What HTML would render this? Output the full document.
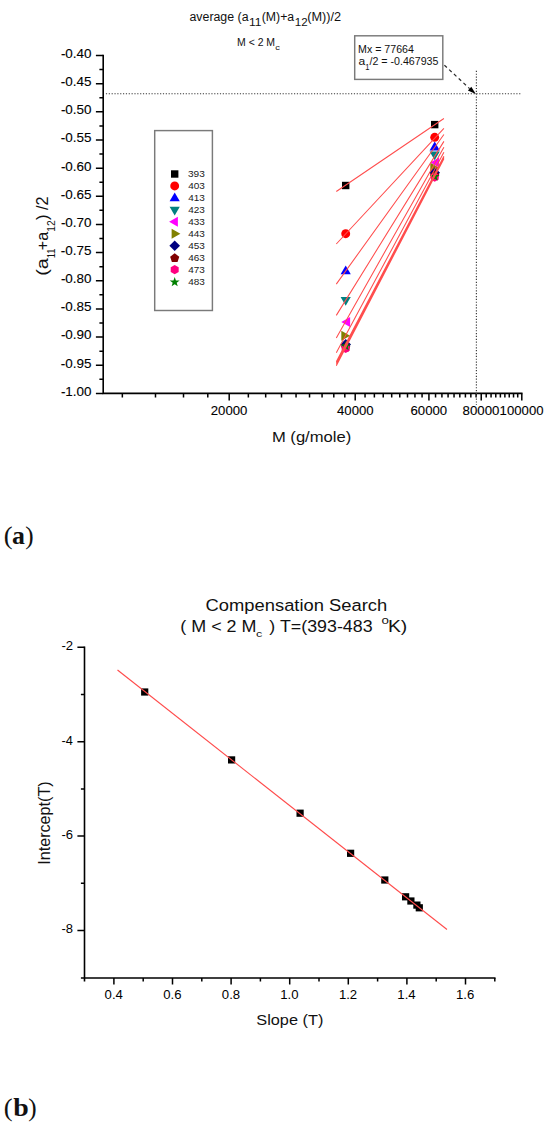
<!DOCTYPE html>
<html><head><meta charset="utf-8"><style>
html,body{margin:0;padding:0;background:#fff;}
body{width:550px;height:1128px;overflow:hidden;}
svg{display:block;}
text{font-family:"Liberation Sans",sans-serif;fill:#111;}
.tk{fill:#000;stroke:#000;stroke-width:0.1px;}
.tb{fill:#000;}
</style></head><body>
<svg width="550" height="1128" viewBox="0 0 550 1128">
<path d="M103.2 54.75 V394.15 M102.45 393.4 H522.5458124805194" stroke="#000" stroke-width="1.6" fill="none"/>
<path d="M95.90 55.50H103.2 M95.90 83.66H103.2 M95.90 111.82H103.2 M95.90 139.98H103.2 M95.90 168.13H103.2 M95.90 196.29H103.2 M95.90 224.45H103.2 M95.90 252.61H103.2 M95.90 280.77H103.2 M95.90 308.93H103.2 M95.90 337.08H103.2 M95.90 365.24H103.2 M95.90 393.40H103.2 M99.40 69.58H103.2 M99.40 97.74H103.2 M99.40 125.90H103.2 M99.40 154.05H103.2 M99.40 182.21H103.2 M99.40 210.37H103.2 M99.40 238.53H103.2 M99.40 266.69H103.2 M99.40 294.85H103.2 M99.40 323.00H103.2 M99.40 351.16H103.2 M99.40 379.32H103.2 M229.20 393.4V400.59999999999997 M355.21 393.4V400.59999999999997 M428.93 393.4V400.59999999999997 M481.23 393.4V400.59999999999997 M521.80 393.4V400.59999999999997 M122.34 393.4V397.59999999999997 M155.49 393.4V397.59999999999997 M183.51 393.4V397.59999999999997 M207.79 393.4V397.59999999999997 M248.35 393.4V397.59999999999997 M265.68 393.4V397.59999999999997 M281.50 393.4V397.59999999999997 M296.05 393.4V397.59999999999997 M309.53 393.4V397.59999999999997 M322.07 393.4V397.59999999999997 M333.80 393.4V397.59999999999997 M344.82 393.4V397.59999999999997 M365.04 393.4V397.59999999999997 M374.37 393.4V397.59999999999997 M383.24 393.4V397.59999999999997 M391.70 393.4V397.59999999999997 M399.78 393.4V397.59999999999997 M407.51 393.4V397.59999999999997 M414.94 393.4V397.59999999999997 M422.07 393.4V397.59999999999997 M435.54 393.4V397.59999999999997 M441.92 393.4V397.59999999999997 M448.08 393.4V397.59999999999997 M454.04 393.4V397.59999999999997 M459.82 393.4V397.59999999999997 M465.41 393.4V397.59999999999997 M470.84 393.4V397.59999999999997 M476.11 393.4V397.59999999999997 M486.21 393.4V397.59999999999997 M491.06 393.4V397.59999999999997 M495.78 393.4V397.59999999999997 M500.38 393.4V397.59999999999997 M504.87 393.4V397.59999999999997 M509.25 393.4V397.59999999999997 M513.53 393.4V397.59999999999997 M517.71 393.4V397.59999999999997" stroke="#000" stroke-width="1.5" fill="none"/>
<text x="60.90" y="57.90" textLength="30.63" lengthAdjust="spacingAndGlyphs" style="font-family:'Liberation Sans',sans-serif;font-size:13.3px" class="tk">-0.40</text>
<text x="60.89" y="86.06" textLength="30.67" lengthAdjust="spacingAndGlyphs" style="font-family:'Liberation Sans',sans-serif;font-size:13.3px" class="tk">-0.45</text>
<text x="60.90" y="114.22" textLength="30.63" lengthAdjust="spacingAndGlyphs" style="font-family:'Liberation Sans',sans-serif;font-size:13.3px" class="tk">-0.50</text>
<text x="60.89" y="142.38" textLength="30.67" lengthAdjust="spacingAndGlyphs" style="font-family:'Liberation Sans',sans-serif;font-size:13.3px" class="tk">-0.55</text>
<text x="60.90" y="170.53" textLength="30.63" lengthAdjust="spacingAndGlyphs" style="font-family:'Liberation Sans',sans-serif;font-size:13.3px" class="tk">-0.60</text>
<text x="60.89" y="198.69" textLength="30.67" lengthAdjust="spacingAndGlyphs" style="font-family:'Liberation Sans',sans-serif;font-size:13.3px" class="tk">-0.65</text>
<text x="60.90" y="226.85" textLength="30.63" lengthAdjust="spacingAndGlyphs" style="font-family:'Liberation Sans',sans-serif;font-size:13.3px" class="tk">-0.70</text>
<text x="60.89" y="255.01" textLength="30.67" lengthAdjust="spacingAndGlyphs" style="font-family:'Liberation Sans',sans-serif;font-size:13.3px" class="tk">-0.75</text>
<text x="60.90" y="283.17" textLength="30.63" lengthAdjust="spacingAndGlyphs" style="font-family:'Liberation Sans',sans-serif;font-size:13.3px" class="tk">-0.80</text>
<text x="60.89" y="311.32" textLength="30.67" lengthAdjust="spacingAndGlyphs" style="font-family:'Liberation Sans',sans-serif;font-size:13.3px" class="tk">-0.85</text>
<text x="60.90" y="339.48" textLength="30.63" lengthAdjust="spacingAndGlyphs" style="font-family:'Liberation Sans',sans-serif;font-size:13.3px" class="tk">-0.90</text>
<text x="60.89" y="367.64" textLength="30.67" lengthAdjust="spacingAndGlyphs" style="font-family:'Liberation Sans',sans-serif;font-size:13.3px" class="tk">-0.95</text>
<text x="60.90" y="395.80" textLength="30.63" lengthAdjust="spacingAndGlyphs" style="font-family:'Liberation Sans',sans-serif;font-size:13.3px" class="tk">-1.00</text>
<text x="210.79" y="415.30" textLength="36.66" lengthAdjust="spacingAndGlyphs" style="font-family:'Liberation Sans',sans-serif;font-size:13.2px" class="tk">20000</text>
<text x="336.99" y="415.30" textLength="36.66" lengthAdjust="spacingAndGlyphs" style="font-family:'Liberation Sans',sans-serif;font-size:13.2px" class="tk">40000</text>
<text x="410.52" y="415.30" textLength="36.66" lengthAdjust="spacingAndGlyphs" style="font-family:'Liberation Sans',sans-serif;font-size:13.2px" class="tk">60000</text>
<text x="462.64" y="415.30" textLength="36.87" lengthAdjust="spacingAndGlyphs" style="font-family:'Liberation Sans',sans-serif;font-size:13.2px" class="tk">80000</text>
<text x="499.61" y="415.30" textLength="43.91" lengthAdjust="spacingAndGlyphs" style="font-family:'Liberation Sans',sans-serif;font-size:13.2px" class="tk">100000</text>
<text x="271.93" y="442.00" textLength="79.32" lengthAdjust="spacingAndGlyphs" style="font-family:'Liberation Sans',sans-serif;font-size:15.5px" >M (g/mole)</text>
<g transform="translate(47.6 0) rotate(-90)"><text x="-275.84" y="0.00" textLength="17.68" lengthAdjust="spacingAndGlyphs" style="font-family:'Liberation Sans',sans-serif;font-size:15.8px" >(a</text><text x="-258.30" y="7.00" textLength="9.76" lengthAdjust="spacingAndGlyphs" style="font-family:'Liberation Sans',sans-serif;font-size:10.4px" >11</text><text x="-250.20" y="0.00" textLength="18.31" lengthAdjust="spacingAndGlyphs" style="font-family:'Liberation Sans',sans-serif;font-size:15.8px" >+a</text><text x="-231.78" y="7.00" textLength="11.52" lengthAdjust="spacingAndGlyphs" style="font-family:'Liberation Sans',sans-serif;font-size:10.4px" >12</text><text x="-219.92" y="0.00" textLength="23.37" lengthAdjust="spacingAndGlyphs" style="font-family:'Liberation Sans',sans-serif;font-size:15.8px" >) /2</text></g>
<text x="189.48" y="21.00" textLength="59.04" lengthAdjust="spacingAndGlyphs" style="font-family:'Liberation Sans',sans-serif;font-size:12px" >average (a</text>
<text x="249.00" y="26.30" textLength="12.48" lengthAdjust="spacingAndGlyphs" style="font-family:'Liberation Sans',sans-serif;font-size:10.8px" >11</text>
<text x="261.73" y="21.00" textLength="32.49" lengthAdjust="spacingAndGlyphs" style="font-family:'Liberation Sans',sans-serif;font-size:12px" >(M)+a</text>
<text x="294.83" y="26.30" textLength="12.87" lengthAdjust="spacingAndGlyphs" style="font-family:'Liberation Sans',sans-serif;font-size:10.8px" >12</text>
<text x="307.20" y="21.00" textLength="33.95" lengthAdjust="spacingAndGlyphs" style="font-family:'Liberation Sans',sans-serif;font-size:12px" >(M))/2</text>
<text x="237.04" y="45.80" textLength="38.02" lengthAdjust="spacingAndGlyphs" style="font-family:'Liberation Sans',sans-serif;font-size:10.0px" >M &lt; 2 M</text>
<text x="275.20" y="49.70" textLength="4.65" lengthAdjust="spacingAndGlyphs" style="font-family:'Liberation Sans',sans-serif;font-size:6.8px" >c</text>
<path d="M105.9 93.76H521.6" stroke="#3a3a3a" stroke-width="1.15" stroke-dasharray="1.2 1.65" fill="none"/>
<path d="M476.40 70.8V405" stroke="#3a3a3a" stroke-width="1.15" stroke-dasharray="1.2 1.65" fill="none"/>
<rect x="354.7" y="35.8" width="88.1" height="43.6" fill="#fff" stroke="#7a7a7a" stroke-width="1.45"/>
<text x="358.12" y="52.80" textLength="55.78" lengthAdjust="spacingAndGlyphs" style="font-family:'Liberation Sans',sans-serif;font-size:10.2px" >Mx = 77664</text>
<text x="358.49" y="65.40" textLength="6.73" lengthAdjust="spacingAndGlyphs" style="font-family:'Liberation Sans',sans-serif;font-size:10.2px" >a</text>
<text x="365.33" y="69.50" textLength="4.24" lengthAdjust="spacingAndGlyphs" style="font-family:'Liberation Sans',sans-serif;font-size:8.6px" >1</text>
<text x="369.50" y="65.40" textLength="68.93" lengthAdjust="spacingAndGlyphs" style="font-family:'Liberation Sans',sans-serif;font-size:10.2px" >/2 = -0.467935</text>
<path d="M443.3 64.2 L469.6 88.6" stroke="#2a2a2a" stroke-width="1.2" stroke-dasharray="3.4 3.1" stroke-dashoffset="-1.5" fill="none"/>
<path d="M475.8 94.0 L467.9 90.4 L471.3 86.8 Z" fill="#000"/>
<rect x="154.7" y="130.6" width="57.7" height="179.9" fill="#fff" stroke="#7a7a7a" stroke-width="1.45"/>
<rect x="171.00" y="170.30" width="7.40" height="7.40" fill="#000000"/>
<text x="188.02" y="177.10" textLength="16.82" lengthAdjust="spacingAndGlyphs" style="font-family:'Liberation Sans',sans-serif;font-size:9.2px;fill:#1a1a1a" >393</text>
<circle cx="174.70" cy="185.95" r="4.45" fill="#ff0000"/>
<text x="188.18" y="189.05" textLength="16.66" lengthAdjust="spacingAndGlyphs" style="font-family:'Liberation Sans',sans-serif;font-size:9.2px;fill:#1a1a1a" >403</text>
<path d="M174.70 192.40L179.80 201.20L169.60 201.20Z" fill="#0000ff"/>
<text x="188.18" y="201.00" textLength="16.66" lengthAdjust="spacingAndGlyphs" style="font-family:'Liberation Sans',sans-serif;font-size:9.2px;fill:#1a1a1a" >413</text>
<path d="M174.70 215.55L179.80 206.75L169.60 206.75Z" fill="#008080"/>
<text x="188.18" y="212.95" textLength="16.66" lengthAdjust="spacingAndGlyphs" style="font-family:'Liberation Sans',sans-serif;font-size:9.2px;fill:#1a1a1a" >423</text>
<path d="M169.10 221.80L177.90 216.80L177.90 226.80Z" fill="#ff00ff"/>
<text x="188.18" y="224.90" textLength="16.66" lengthAdjust="spacingAndGlyphs" style="font-family:'Liberation Sans',sans-serif;font-size:9.2px;fill:#1a1a1a" >433</text>
<path d="M180.40 233.75L171.60 228.75L171.60 238.75Z" fill="#808000"/>
<text x="188.18" y="236.85" textLength="16.66" lengthAdjust="spacingAndGlyphs" style="font-family:'Liberation Sans',sans-serif;font-size:9.2px;fill:#1a1a1a" >443</text>
<path d="M174.70 240.40L180.00 245.70L174.70 251.00L169.40 245.70Z" fill="#000080"/>
<text x="188.18" y="248.80" textLength="16.66" lengthAdjust="spacingAndGlyphs" style="font-family:'Liberation Sans',sans-serif;font-size:9.2px;fill:#1a1a1a" >453</text>
<path d="M174.70 253.35L179.27 256.67L177.52 262.03L171.88 262.03L170.13 256.67Z" fill="#800000"/>
<text x="188.18" y="260.75" textLength="16.66" lengthAdjust="spacingAndGlyphs" style="font-family:'Liberation Sans',sans-serif;font-size:9.2px;fill:#1a1a1a" >463</text>
<path d="M174.70 265.00L178.68 267.30L178.68 271.90L174.70 274.20L170.72 271.90L170.72 267.30Z" fill="#ff0080"/>
<text x="188.18" y="272.70" textLength="16.66" lengthAdjust="spacingAndGlyphs" style="font-family:'Liberation Sans',sans-serif;font-size:9.2px;fill:#1a1a1a" >473</text>
<path d="M174.70 276.95L175.93 280.45L179.65 280.54L176.70 282.80L177.76 286.36L174.70 284.25L171.64 286.36L172.70 282.80L169.75 280.54L173.47 280.45Z" fill="#008000"/>
<text x="188.18" y="284.65" textLength="16.66" lengthAdjust="spacingAndGlyphs" style="font-family:'Liberation Sans',sans-serif;font-size:9.2px;fill:#1a1a1a" >483</text>
<rect x="342.00" y="181.80" width="7.40" height="7.40" fill="#000000"/>
<rect x="431.00" y="120.90" width="7.40" height="7.40" fill="#000000"/>
<circle cx="345.70" cy="233.70" r="4.45" fill="#ff0000"/>
<circle cx="434.70" cy="137.30" r="4.45" fill="#ff0000"/>
<path d="M345.70 265.40L350.80 274.20L340.60 274.20Z" fill="#0000ff"/>
<path d="M434.70 141.60L439.80 150.40L429.60 150.40Z" fill="#0000ff"/>
<path d="M345.70 305.80L350.80 297.00L340.60 297.00Z" fill="#008080"/>
<path d="M434.70 160.30L439.80 151.50L429.60 151.50Z" fill="#008080"/>
<path d="M341.30 321.90L350.10 316.90L350.10 326.90Z" fill="#ff00ff"/>
<path d="M430.30 162.60L439.10 157.60L439.10 167.60Z" fill="#ff00ff"/>
<path d="M350.10 335.80L341.30 330.80L341.30 340.80Z" fill="#808000"/>
<path d="M439.10 167.80L430.30 162.80L430.30 172.80Z" fill="#808000"/>
<path d="M345.70 339.10L351.00 344.40L345.70 349.70L340.40 344.40Z" fill="#000080"/>
<path d="M434.70 167.40L440.00 172.70L434.70 178.00L429.40 172.70Z" fill="#000080"/>
<path d="M345.70 342.70L350.27 346.02L348.52 351.38L342.88 351.38L341.13 346.02Z" fill="#800000"/>
<path d="M434.70 170.70L439.27 174.02L437.52 179.38L431.88 179.38L430.13 174.02Z" fill="#800000"/>
<path d="M345.70 343.90L349.68 346.20L349.68 350.80L345.70 353.10L341.72 350.80L341.72 346.20Z" fill="#ff0080"/>
<path d="M434.70 172.50L438.68 174.80L438.68 179.40L434.70 181.70L430.72 179.40L430.72 174.80Z" fill="#ff0080"/>
<path d="M345.70 340.90L346.93 344.40L350.65 344.49L347.70 346.75L348.76 350.31L345.70 348.20L342.64 350.31L343.70 346.75L340.75 344.49L344.47 344.40Z" fill="#008000"/>
<path d="M434.70 171.40L435.93 174.90L439.65 174.99L436.70 177.25L437.76 180.81L434.70 178.70L431.64 180.81L432.70 177.25L429.75 174.99L433.47 174.90Z" fill="#008000"/>
<path d="M336.3 191.50L443.9 118.50 M336.3 244.00L443.9 128.40 M336.3 284.10L443.9 134.50 M336.3 315.40L443.9 141.40 M336.3 337.90L443.9 147.20 M336.3 352.80L443.9 152.30 M336.3 361.80L443.9 156.30 M336.3 364.60L443.9 157.90 M336.3 365.80L443.9 158.70 M336.3 362.80L443.9 157.20" stroke="#ff4d4d" stroke-width="1.05" fill="none"/>
<text x="3.80" y="544.00" textLength="8.88" lengthAdjust="spacingAndGlyphs" style="font-family:'Liberation Serif',serif;font-size:26px" >(</text>
<text x="11.96" y="544.00" textLength="12.93" lengthAdjust="spacingAndGlyphs" style="font-family:'Liberation Serif',serif;font-size:26px;font-weight:bold" >a</text>
<text x="25.18" y="544.00" textLength="8.41" lengthAdjust="spacingAndGlyphs" style="font-family:'Liberation Serif',serif;font-size:26px" >)</text>
<path d="M84.5 646.55V981.6 M80.9 978.0H495.54999999999995" stroke="#000" stroke-width="1.6" fill="none"/>
<path d="M77.4 647.30H84.5 M77.4 741.70H84.5 M77.4 836.10H84.5 M77.4 930.50H84.5 M80.9 694.50H84.5 M80.9 788.90H84.5 M80.9 883.30H84.5 M113.90 978.0V984.6 M172.50 978.0V984.6 M231.10 978.0V984.6 M289.70 978.0V984.6 M348.30 978.0V984.6 M406.90 978.0V984.6 M465.50 978.0V984.6 M143.20 978.0V981.5 M201.80 978.0V981.5 M260.40 978.0V981.5 M319.00 978.0V981.5 M377.60 978.0V981.5 M436.20 978.0V981.5 M494.80 978.0V981.5 M494.80 978.0V981.5" stroke="#000" stroke-width="1.5" fill="none"/>
<text x="61.41" y="650.20" textLength="11.67" lengthAdjust="spacingAndGlyphs" style="font-family:'Liberation Sans',sans-serif;font-size:13.2px" class="tb">-2</text>
<text x="61.43" y="744.60" textLength="11.35" lengthAdjust="spacingAndGlyphs" style="font-family:'Liberation Sans',sans-serif;font-size:13.2px" class="tb">-4</text>
<text x="61.41" y="839.00" textLength="11.56" lengthAdjust="spacingAndGlyphs" style="font-family:'Liberation Sans',sans-serif;font-size:13.2px" class="tb">-6</text>
<text x="61.41" y="933.40" textLength="11.56" lengthAdjust="spacingAndGlyphs" style="font-family:'Liberation Sans',sans-serif;font-size:13.2px" class="tb">-8</text>
<text x="104.57" y="998.70" textLength="18.29" lengthAdjust="spacingAndGlyphs" style="font-family:'Liberation Sans',sans-serif;font-size:13.2px" class="tb">0.4</text>
<text x="163.27" y="998.70" textLength="18.29" lengthAdjust="spacingAndGlyphs" style="font-family:'Liberation Sans',sans-serif;font-size:13.2px" class="tb">0.6</text>
<text x="221.87" y="998.70" textLength="18.29" lengthAdjust="spacingAndGlyphs" style="font-family:'Liberation Sans',sans-serif;font-size:13.2px" class="tb">0.8</text>
<text x="280.21" y="998.70" textLength="18.29" lengthAdjust="spacingAndGlyphs" style="font-family:'Liberation Sans',sans-serif;font-size:13.2px" class="tb">1.0</text>
<text x="338.89" y="998.70" textLength="18.29" lengthAdjust="spacingAndGlyphs" style="font-family:'Liberation Sans',sans-serif;font-size:13.2px" class="tb">1.2</text>
<text x="397.34" y="998.70" textLength="18.29" lengthAdjust="spacingAndGlyphs" style="font-family:'Liberation Sans',sans-serif;font-size:13.2px" class="tb">1.4</text>
<text x="456.04" y="998.70" textLength="18.29" lengthAdjust="spacingAndGlyphs" style="font-family:'Liberation Sans',sans-serif;font-size:13.2px" class="tb">1.6</text>
<text x="256.27" y="1025.00" textLength="67.05" lengthAdjust="spacingAndGlyphs" style="font-family:'Liberation Sans',sans-serif;font-size:15.3px" >Slope (T)</text>
<g transform="translate(50.4 0) rotate(-90)"><text x="-864.79" y="0.00" textLength="83.41" lengthAdjust="spacingAndGlyphs" style="font-family:'Liberation Sans',sans-serif;font-size:15.8px" >Intercept(T)</text></g>
<text x="205.58" y="610.60" textLength="181.65" lengthAdjust="spacingAndGlyphs" style="font-family:'Liberation Sans',sans-serif;font-size:16.8px" >Compensation Search</text>
<text x="180.28" y="631.70" textLength="76.21" lengthAdjust="spacingAndGlyphs" style="font-family:'Liberation Sans',sans-serif;font-size:16.2px" >( M &lt; 2 M</text>
<text x="255.97" y="636.50" textLength="6.28" lengthAdjust="spacingAndGlyphs" style="font-family:'Liberation Sans',sans-serif;font-size:9.5px" >c</text>
<text x="269.37" y="631.70" textLength="103.20" lengthAdjust="spacingAndGlyphs" style="font-family:'Liberation Sans',sans-serif;font-size:16.2px" >) T=(393-483</text>
<text x="381.43" y="624.30" textLength="7.42" lengthAdjust="spacingAndGlyphs" style="font-family:'Liberation Sans',sans-serif;font-size:10.5px" >o</text>
<text x="388.01" y="631.70" textLength="19.30" lengthAdjust="spacingAndGlyphs" style="font-family:'Liberation Sans',sans-serif;font-size:16.2px" >K)</text>
<rect x="141.10" y="688.40" width="7.2" height="7.2" fill="#000"/>
<rect x="228.00" y="756.30" width="7.2" height="7.2" fill="#000"/>
<rect x="296.50" y="809.60" width="7.2" height="7.2" fill="#000"/>
<rect x="347.00" y="849.70" width="7.2" height="7.2" fill="#000"/>
<rect x="381.20" y="876.40" width="7.2" height="7.2" fill="#000"/>
<rect x="402.00" y="893.20" width="7.2" height="7.2" fill="#000"/>
<rect x="407.30" y="897.40" width="7.2" height="7.2" fill="#000"/>
<rect x="413.30" y="901.50" width="7.2" height="7.2" fill="#000"/>
<rect x="415.70" y="904.20" width="7.2" height="7.2" fill="#000"/>
<path d="M117.5 670L447 929.5" stroke="#ff4a4a" stroke-width="1.1" fill="none"/>
<text x="3.80" y="1115.50" textLength="8.88" lengthAdjust="spacingAndGlyphs" style="font-family:'Liberation Serif',serif;font-size:26px" >(</text>
<text x="13.15" y="1115.50" textLength="15.50" lengthAdjust="spacingAndGlyphs" style="font-family:'Liberation Serif',serif;font-size:26px;font-weight:bold" >b</text>
<text x="28.18" y="1115.50" textLength="8.41" lengthAdjust="spacingAndGlyphs" style="font-family:'Liberation Serif',serif;font-size:26px" >)</text>
</svg>
</body></html>
